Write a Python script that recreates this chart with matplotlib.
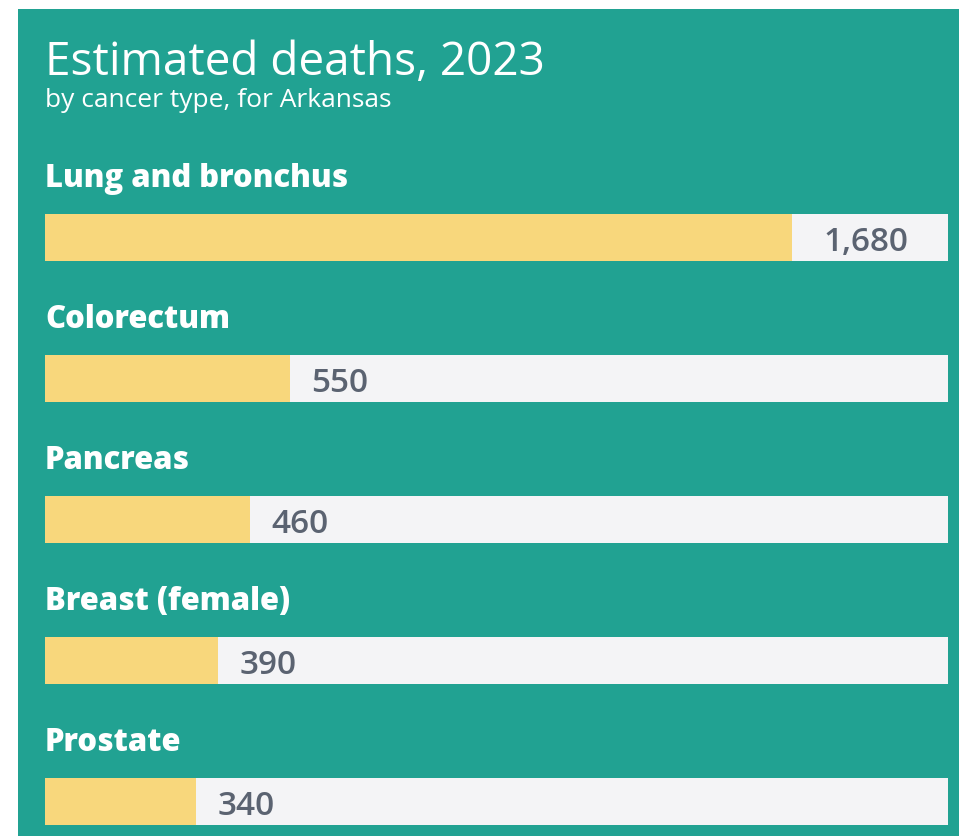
import matplotlib
matplotlib.use("Agg")
import matplotlib.pyplot as plt
from matplotlib.patches import Rectangle

# ---- data ----
categories = ["Lung and bronchus", "Colorectum", "Pancreas", "Breast (female)", "Prostate"]
deaths = [1680, 550, 460, 390, 340]
value_labels = ["1,680", "550", "460", "390", "340"]
title = "Estimated deaths, 2023"
subtitle = "by cancer type, for Arkansas"
axis_max = 2030

# ---- style ----
W, H = 959, 837
DPI = 100
TEAL = "#21A292"
YELLOW = "#F8D77C"
TRACK = "#F4F4F6"
VALUE_COLOR = "#5B6371"
FONT = "Open Sans"

fig = plt.figure(figsize=(W / DPI, H / DPI), dpi=DPI, facecolor="white")
# teal card
fig.patches.append(Rectangle((18 / W, 0), 1 - 18 / W, 1 - 10 / H,
                             transform=fig.transFigure, facecolor=TEAL,
                             edgecolor="none", zorder=-10))

fig.text(45 / W, 1 - 75 / H, title, fontsize=33, fontweight="medium", color="white",
         family=FONT, ha="left", va="baseline")
fig.text(45 / W, 1 - 107 / H, subtitle, fontsize=19, color="white",
         family=FONT, ha="left", va="baseline")

# axes placed in pixel space
x0, x1 = 45, 948
ytop, ybot = 150, 837
ax = fig.add_axes([x0 / W, 1 - ybot / H, (x1 - x0) / W, (ybot - ytop) / H])
ax.set_zorder(5)
ax.patch.set_alpha(0)
ax.set_xlim(0, axis_max)
spacing = 141.0
c0 = 238.0
ax.set_ylim((ybot - c0) / spacing, (ytop - c0) / spacing)
ax.axis("off")

ypos = list(range(len(categories)))
bar_h = 47 / spacing
ax.barh(ypos, [axis_max] * len(categories), height=bar_h, color=TRACK, zorder=1)
ax.barh(ypos, deaths, height=bar_h, color=YELLOW, zorder=2)

for i, (cat, v, lab) in enumerate(zip(categories, deaths, value_labels)):
    ax.text(0, i - 0.36, cat, fontsize=22.3, fontweight="extra bold", color="white",
            family=FONT, ha="left", va="baseline", clip_on=False)
    if axis_max - v < 400:
        ax.text((v + axis_max) / 2 - 10, i + 0.09, lab, fontsize=24, fontweight="semibold",
                color=VALUE_COLOR, family=FONT, ha="center", va="baseline", zorder=3)
    else:
        ax.annotate(lab, xy=(v, i + 0.09), xytext=(15.5, 0), textcoords="offset points",
                    fontsize=24, fontweight="semibold", color=VALUE_COLOR,
                    family=FONT, ha="left", va="baseline", zorder=3)

fig.savefig("out.png", dpi=DPI, facecolor="white")
